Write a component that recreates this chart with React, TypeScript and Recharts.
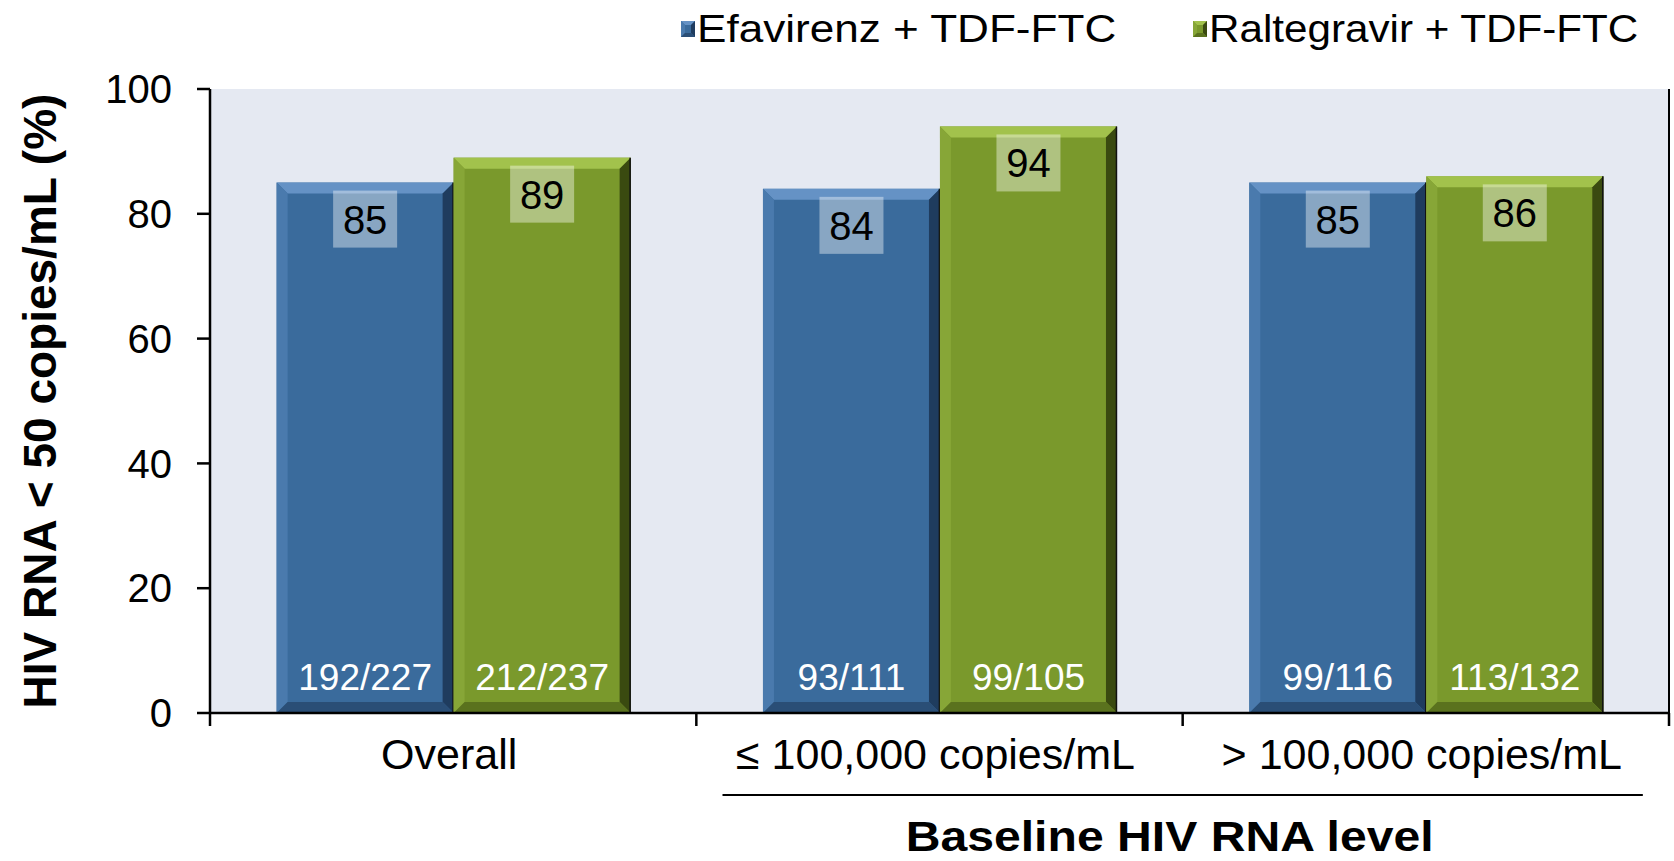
import { BarChart, Bar, XAxis, YAxis, CartesianGrid, LabelList } from "recharts";

const categories = ["Overall", "≤ 100,000 copies/mL", "> 100,000 copies/mL"];
const efavirenzPct = [85, 84, 85];
const raltegravirPct = [89, 94, 86];
const efavirenzN = ["192/227", "93/111", "99/116"];
const raltegravirN = ["212/237", "99/105", "113/132"];
const yTicks = [0, 20, 40, 60, 80, 100];
const seriesNames = ["Efavirenz + TDF-FTC", "Raltegravir + TDF-FTC"];
const groupTitle = "Baseline HIV RNA level";
const yTitle = "HIV RNA < 50 copies/mL (%)";

const data = categories.map((c, i) => ({
  category: c,
  efv: efavirenzPct[i],
  ral: raltegravirPct[i],
  efvN: efavirenzN[i],
  ralN: raltegravirN[i],
}));

const FONT = "'Liberation Sans', Arial, sans-serif";

type Tone = { main: string; top: string; left: string; right: string; bottom: string };

const BLUE: Tone = { main: "#3A6B9C", top: "#6592C5", left: "#4A7AAD", right: "#1F3C5E", bottom: "#2A4E76" };
const GREEN: Tone = { main: "#7A992C", top: "#A2C24C", left: "#87A637", right: "#3A4A10", bottom: "#5A721E" };

function BevelBar(props: any) {
  const { x, y, width: w, height: h, tone } = props;
  if (!w || !h) return null;
  const b = Math.min(11, h / 2);
  const pts = (a: number[][]) => a.map((p) => p.join(",")).join(" ");
  return (
    <g>
      <rect x={x} y={y} width={w} height={h} fill={tone.main} />
      <polygon points={pts([[x, y], [x + w, y], [x + w - b, y + b], [x + b, y + b]])} fill={tone.top} />
      <polygon points={pts([[x, y], [x + b, y + b], [x + b, y + h - b], [x, y + h]])} fill={tone.left} />
      <polygon points={pts([[x + w, y], [x + w, y + h], [x + w - b, y + h - b], [x + w - b, y + b]])} fill={tone.right} />
      <polygon points={pts([[x, y + h], [x + w, y + h], [x + w - b, y + h - b], [x + b, y + h - b]])} fill={tone.bottom} />
      <line x1={x + w - 0.5} y1={y} x2={x + w - 0.5} y2={y + h} stroke="#111" strokeWidth={1.5} />
    </g>
  );
}

const valueBox = (props: any) => {
  const vb = props.viewBox ?? props;
  const cx = Number(vb.x) + Number(vb.width) / 2;
  const top = Number(vb.y) + 8;
  return (
    <g>
      <rect x={cx - 32} y={top} width={64} height={57} fill="rgba(255,255,255,0.4)" />
      <text x={cx} y={top + 43} textAnchor="middle" fontSize={40} fill="#000" fontFamily={FONT}>
        {props.value}
      </text>
    </g>
  );
};

const countLabel = (props: any) => {
  const vb = props.viewBox ?? props;
  const cx = Number(vb.x) + Number(vb.width) / 2;
  const bottom = Number(vb.y) + Number(vb.height);
  return (
    <text x={cx} y={bottom - 23} textAnchor="middle" fontSize={37} fill="#fff" fontFamily={FONT}>
      {props.value}
    </text>
  );
};

const CategoryTick = (props: any) => {
  const { x, y, payload, index } = props;
  const off = payload?.offset || 1459 / 6;
  const last = index === categories.length - 1;
  return (
    <g>
      {index === 0 && <line x1={x - off} y1={y} x2={x - off} y2={y + 13} stroke="#000" strokeWidth={2.5} />}
      <line x1={x + off} y1={y} x2={x + off} y2={y + 13} stroke="#000" strokeWidth={2.5} />
      <text x={x - 4} y={y + 56} textAnchor="middle" fontSize={43} fill="#000" fontFamily={FONT}>
        {payload.value}
      </text>
      {last && (
        <g>
          <line x1={x - 2 * off - 217} y1={y + 82} x2={x + 217} y2={y + 82} stroke="#000" strokeWidth={2} />
          <g transform={`translate(${x - off - 13}, ${y + 138}) scale(1.12, 1)`}>
            <text x={0} y={0} textAnchor="middle" fontSize={43} fontWeight="bold" fill="#000" fontFamily={FONT}>
              {groupTitle}
            </text>
          </g>
        </g>
      )}
    </g>
  );
};

const yTitleLabel = (props: any) => {
  const vb = props.viewBox;
  const cx = Number(vb.x) + 56;
  const cy = Number(vb.y) + Number(vb.height) / 2;
  return (
    <text
      transform={`translate(${cx}, ${cy}) rotate(-90)`}
      textAnchor="middle"
      fontSize={46}
      fontWeight="bold"
      fill="#000"
      fontFamily={FONT}
    >
      {yTitle}
    </text>
  );
};

function LegendSwatch({ tone }: { tone: Tone }) {
  return (
    <svg width={14} height={16} style={{ display: "block" }}>
      <rect x={0} y={0} width={14} height={16} fill={tone.main} />
      <polygon points="0,0 14,0 10,4 4,4" fill={tone.top} />
      <polygon points="0,0 4,4 4,12 0,16" fill={tone.left} />
      <polygon points="14,0 14,16 10,12 10,4" fill={tone.right} />
      <polygon points="0,16 14,16 10,12 4,12" fill={tone.bottom} />
    </svg>
  );
}

function LegendItem({ left, tone, label, stretch }: { left: number; tone: Tone; label: string; stretch: number }) {
  return (
    <div style={{ position: "absolute", left, top: 8, height: 42, display: "flex", alignItems: "center" }}>
      <LegendSwatch tone={tone} />
      <span
        style={{
          marginLeft: 2,
          fontSize: 38,
          lineHeight: "42px",
          whiteSpace: "nowrap",
          display: "inline-block",
          transform: `scaleX(${stretch})`,
          transformOrigin: "left center",
          color: "#000",
        }}
      >
        {label}
      </span>
    </div>
  );
}

export default function App() {
  return (
    <div
      style={{
        position: "absolute",
        left: 0,
        top: 0,
        width: 1674,
        height: 861,
        background: "#fff",
        fontFamily: FONT,
        overflow: "hidden",
      }}
    >
      <BarChart
        width={1674}
        height={861}
        data={data}
        margin={{ top: 89, right: 0, left: 0, bottom: 0 }}
        barCategoryGap="13.7%"
        barGap={0}
      >
        <CartesianGrid horizontal={false} vertical={false} fill="#E5E9F2" />
        <XAxis
          dataKey="category"
          height={148}
          tickLine={false}
          tickSize={0}
          tickMargin={0}
          axisLine={{ stroke: "#000", strokeWidth: 2.5 }}
          tick={<CategoryTick />}
          interval={0}
        />
        <YAxis
          domain={[0, 100]}
          ticks={yTicks}
          width={210}
          tickSize={13}
          tickMargin={25}
          axisLine={{ stroke: "#000", strokeWidth: 2.5 }}
          tickLine={{ stroke: "#000", strokeWidth: 2.5 }}
          tick={{ fontSize: 40, fill: "#000", fontFamily: FONT }}
          label={{ content: yTitleLabel }}
        />
        <YAxis
          yAxisId="frame"
          orientation="right"
          width={5}
          tick={false}
          tickLine={false}
          axisLine={{ stroke: "#000", strokeWidth: 2 }}
        />
        <Bar dataKey="efv" name={seriesNames[0]} isAnimationActive={false} shape={(p: any) => <BevelBar {...p} tone={BLUE} />}>
          <LabelList dataKey="efv" content={valueBox} />
          <LabelList dataKey="efvN" content={countLabel} />
        </Bar>
        <Bar dataKey="ral" name={seriesNames[1]} isAnimationActive={false} shape={(p: any) => <BevelBar {...p} tone={GREEN} />}>
          <LabelList dataKey="ral" content={valueBox} />
          <LabelList dataKey="ralN" content={countLabel} />
        </Bar>
      </BarChart>
      <LegendItem left={681} tone={BLUE} label={seriesNames[0]} stretch={1.16} />
      <LegendItem left={1193} tone={GREEN} label={seriesNames[1]} stretch={1.11} />
    </div>
  );
}
